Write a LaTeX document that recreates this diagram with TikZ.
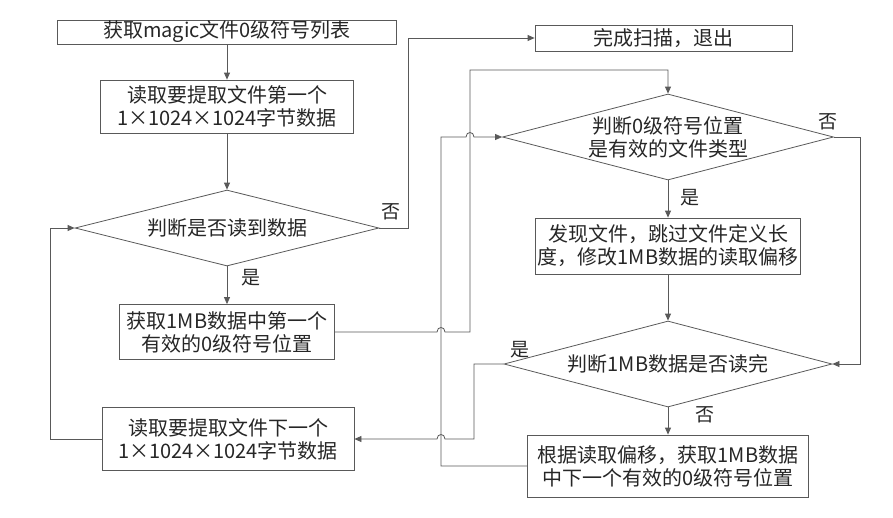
\documentclass[tikz,border=0pt]{standalone}
\usepackage{fontspec}
\newfontfamily\cjk{Noto Sans CJK SC}
\usetikzlibrary{shapes,arrows.meta,positioning,calc}

\begin{document}
\begin{tikzpicture}[
  x=1pt, y=-1pt,
  block/.style={rectangle, draw=black!65, line width=0.8pt, align=center,
    inner sep=0pt, text=black!85, font=\cjk\fontsize{20}{23}\selectfont},
  decision/.style={diamond, draw=black!65, line width=0.8pt, align=center,
    inner sep=0pt, shape aspect=4, text=black!85,
    font=\cjk\fontsize{20}{23}\selectfont},
  tag/.style={text=black!85, font=\cjk\fontsize{19}{20}\selectfont},
  arrow/.style={-{Triangle[length=7pt,width=6pt]}, draw=black!65, line width=0.8pt}]
  \useasboundingbox (0,0) rectangle (893,517);
  % left column
  \node[block, minimum width=339pt, minimum height=24pt] (magic) at (227,32)
    {获取magic文件0级符号列表};
  \node[block, minimum width=253pt, minimum height=53pt] (read1) at (227,106.5)
    {读取要提取文件第一个\\1×1024×1024字节数据};
  \node[decision, minimum width=304pt, minimum height=76pt] (dec1) at (227,228)
    {判断是否读到数据};
  \node[block, minimum width=215pt, minimum height=55pt] (first) at (227,332)
    {获取1MB数据中第一个\\有效的0级符号位置};
  \node[block, minimum width=252pt, minimum height=63pt] (next) at (228,439)
    {读取要提取文件下一个\\1×1024×1024字节数据};
  % right column
  \node[block, minimum width=257pt, minimum height=26pt] (done) at (663.5,38)
    {完成扫描，退出};
  \node[decision, minimum width=331pt, minimum height=86pt] (dec2) at (668,137)
    {判断0级符号位置\\是有效的文件类型};
  \node[block, minimum width=265pt, minimum height=56pt] (found) at (668,246)
    {发现文件，跳过文件定义长\\度，修改1MB数据的读取偏移};
  \node[decision, minimum width=328pt, minimum height=86pt] (dec3) at (668,364)
    {判断1MB数据是否读完};
  \node[block, minimum width=281pt, minimum height=62pt] (nextpos) at (668,466)
    {根据读取偏移，获取1MB数据\\中下一个有效的0级符号位置};
  % yes / no
  \node[tag] (no1) at (391,212) {否};
  \node[tag] (yes1) at (251,278) {是};
  \node[tag] (no2) at (828,122) {否};
  \node[tag] (yes2) at (690,198) {是};
  \node[tag] (yes3) at (520,350) {是};
  \node[tag] (no3) at (705,415) {否};
  % connectors
  \draw[arrow] (magic) -- (read1);
  \draw[arrow] (read1) -- (dec1);
  \draw[arrow] (dec1.east) -- ++(29,0) |- (done.west);
  \draw[arrow] (dec1) -- (first);
  \draw[arrow] (first.east) -- (437,332) .. controls (437,326) and (445,326) .. (445,332)
    -- (470,332) -- (470,70) -| (dec2.north);
  \draw[arrow] (dec2) -- (found);
  \draw[arrow] (dec2.east) -- ++(26,0) |- (dec3.east);
  \draw[arrow] (found) -- (dec3);
  \draw[arrow] (dec3.west) -- (474,364) -- (474,439) -- (445,439)
    .. controls (445,433) and (437,433) .. (437,439) -- (next.east);
  \draw[arrow] (dec3) -- (nextpos);
  \draw[arrow] (nextpos.west) -- (441,466) -- (441,137) -- (466,137)
    .. controls (466,131) and (474,131) .. (474,137) -- (dec2.west);
  \draw[arrow] (next.west) -- (50,439) |- (dec1.west);
\end{tikzpicture}
\end{document}
